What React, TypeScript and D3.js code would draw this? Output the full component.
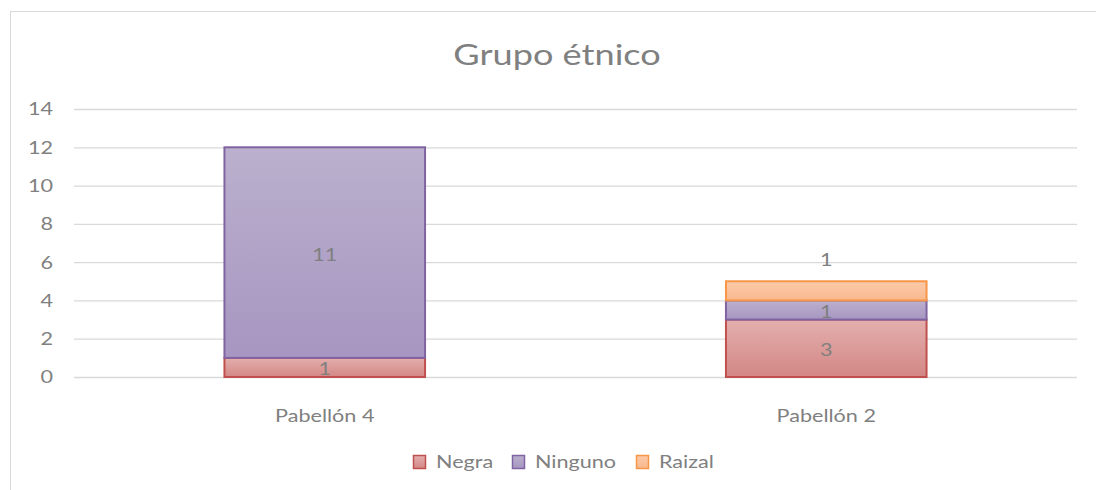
import React, { useEffect, useRef } from "react";
import * as d3 from "d3";

const categories = ["Pabellón 4", "Pabellón 2"];
const seriesNames = ["Negra", "Ninguno", "Raizal"];
const negra = [1, 3];
const ninguno = [11, 1];
const raizal = [0, 1];
const yTicks = [0, 2, 4, 6, 8, 10, 12, 14];

const strokes = ["#c0504d", "#8064a2", "#f79646"];
const gradTop = ["#e3afad", "#bbb0cd", "#fbcaa9"];
const gradBottom = ["#d38785", "#a696c1", "#f9b88e"];

const FONT = "Lato, 'Open Sans', sans-serif";
const TXT = "#808080";
const SX = 1.2; // reference text is wider than Lato

export default function App() {
  const ref = useRef<SVGSVGElement>(null);

  useEffect(() => {
    const width = 1096;
    const height = 490;
    const svg = d3.select(ref.current).attr("width", width).attr("height", height);
    svg.selectAll("*").remove();

    // stretched text helper
    const label = (
      parent: any,
      tx: number,
      ty: number,
      str: string | number,
      anchor = "middle",
      size = 18,
      sx = SX
    ) =>
      parent
        .append("text")
        .attr("transform", `translate(${tx},${ty}) scale(${sx},1)`)
        .attr("dy", "0.36em")
        .attr("text-anchor", anchor)
        .attr("font-family", FONT)
        .attr("font-size", size)
        .attr("fill", TXT)
        .text(str);

    const rows = categories.map((c, i) => ({
      cat: c,
      Negra: negra[i],
      Ninguno: ninguno[i],
      Raizal: raizal[i],
    }));
    const stacked = d3.stack<any>().keys(seriesNames)(rows);

    const x = d3
      .scaleBand()
      .domain(categories)
      .range([74, 1077])
      .paddingInner(0.6)
      .paddingOuter(0.3);
    const y = d3.scaleLinear().domain([0, 14]).range([377, 109]);

    const defs = svg.append("defs");
    seriesNames.forEach((s, i) => {
      const g = defs
        .append("linearGradient")
        .attr("id", "g" + i)
        .attr("x1", 0)
        .attr("y1", 0)
        .attr("x2", 0)
        .attr("y2", 1);
      g.append("stop").attr("offset", "0%").attr("stop-color", gradTop[i]);
      g.append("stop").attr("offset", "100%").attr("stop-color", gradBottom[i]);
    });

    // outer chart border (only top and left visible)
    svg
      .append("rect")
      .attr("x", 10.5)
      .attr("y", 11.5)
      .attr("width", 1100)
      .attr("height", 500)
      .attr("fill", "white")
      .attr("stroke", "#d9d9d9");

    svg
      .append("text")
      .attr("transform", `translate(557,65) scale(1.29,1)`)
      .attr("text-anchor", "middle")
      .attr("font-family", FONT)
      .attr("font-size", 28)
      .attr("fill", TXT)
      .text("Grupo étnico");

    // gridlines
    svg
      .append("g")
      .selectAll("line")
      .data(yTicks)
      .join("line")
      .attr("x1", 74)
      .attr("x2", 1077)
      .attr("y1", (d) => y(d) + 0.5)
      .attr("y2", (d) => y(d) + 0.5)
      .attr("stroke", "#d9d9d9")
      .attr("stroke-width", 1.3);

    const yAxis = svg.append("g");
    yTicks.forEach((t) => label(yAxis, 53, y(t), t, "end"));

    stacked.forEach((layer, i) => {
      svg
        .append("g")
        .selectAll("rect")
        .data(layer.filter((d) => d[1] - d[0] > 0))
        .join("rect")
        .attr("x", (d) => x(d.data.cat)!)
        .attr("y", (d) => y(d[1]))
        .attr("width", x.bandwidth())
        .attr("height", (d) => y(d[0]) - y(d[1]))
        .attr("fill", `url(#g${i})`)
        .attr("stroke", strokes[i])
        .attr("stroke-width", 2);
    });

    const labels = svg.append("g");
    stacked.forEach((layer) => {
      layer
        .filter((d) => d[1] - d[0] > 0)
        .forEach((d) => {
          const cx = x(d.data.cat)! + x.bandwidth() / 2;
          const cy =
            layer.key === "Raizal" ? y(d[1]) - 22 : (y(d[0]) + y(d[1])) / 2 + 1.5;
          label(labels, cx, cy, d[1] - d[0]);
        });
    });

    const xAxis = svg.append("g");
    categories.forEach((c) => label(xAxis, x(c)! + x.bandwidth() / 2, 416, c));

    const legendX = [413, 512, 636];
    const lg = svg.append("g");
    seriesNames.forEach((s, i) => {
      lg.append("rect")
        .attr("x", legendX[i] + 0.5)
        .attr("y", 455.5)
        .attr("width", 12)
        .attr("height", 13)
        .attr("fill", `url(#g${i})`)
        .attr("stroke", strokes[i])
        .attr("stroke-width", 1.5);
      label(lg, legendX[i] + 23, 462, s, "start");
    });
  }, []);

  return (
    <svg
      ref={ref}
      style={{ position: "absolute", left: 0, top: 0, display: "block" }}
    />
  );
}
